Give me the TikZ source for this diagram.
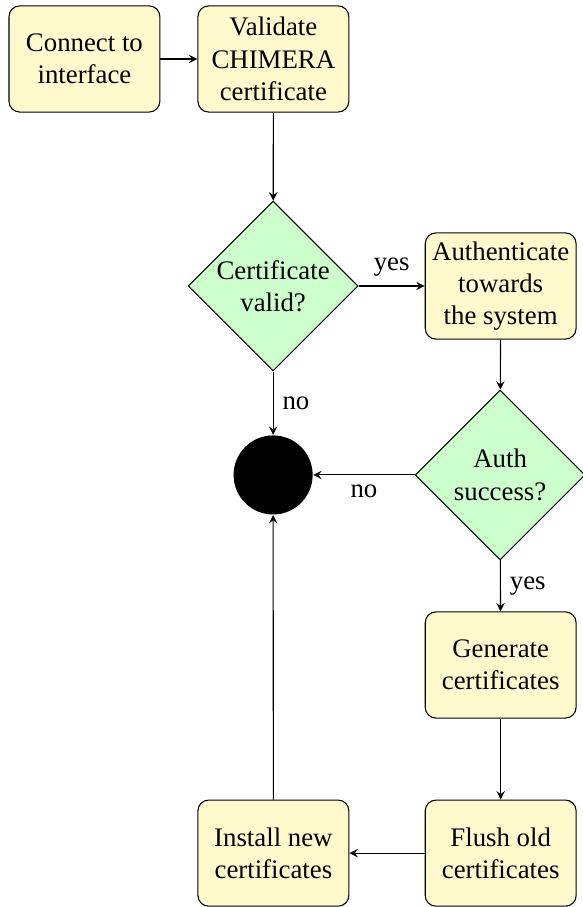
\documentclass[tikz,border=0pt]{standalone}
\usepackage{fontspec}
\setmainfont{Liberation Serif}
\usetikzlibrary{shapes.geometric,arrows}
\definecolor{boxyellow}{RGB}{255,250,205}
\definecolor{decgreen}{RGB}{204,255,204}
\tikzset{
  stepbox/.style={draw,rounded corners=4pt,fill=boxyellow,align=center,
    minimum width=56.3pt,minimum height=39.6pt,inner sep=2pt},
  decision/.style={draw,diamond,aspect=1,fill=decgreen,align=center,
    minimum size=63.4pt,inner sep=0pt},
  stopdot/.style={circle,fill=black,minimum size=29.5pt,inner sep=0pt},
  flow/.style={-stealth,line width=0.4pt}
}
\begin{document}
\begin{tikzpicture}
   \useasboundingbox (0pt,0pt) rectangle (217.5pt,-338.4pt);
   % steps and decisions
   \node [stepbox] (connect) at (31.5pt,-22pt) {Connect to\\interface};
   \node [stepbox] (validate) at (102pt,-22pt) {Validate\\CHIMERA\\certificate};
   \node [decision] (certok) at (101.9pt,-106.7pt) {Certificate\\valid?};
   \node [stepbox] (auth) at (186.8pt,-106.7pt) {Authenticate\\towards\\the system};
   \node [decision] (authok) at (186.6pt,-177.2pt) {Auth\\success?};
   \node [stopdot] (stop) at (101.9pt,-177.2pt) {};
   \node [stepbox] (generate) at (186.8pt,-248.1pt) {Generate\\certificates};
   \node [stepbox] (flush) at (186.8pt,-318.3pt) {Flush old\\certificates};
   \node [stepbox] (install) at (102pt,-318.3pt) {Install new\\certificates};
   % connectors
   \draw [flow] (connect) -- (validate);
   \draw [flow] (validate) -- (certok);
   \draw [flow] (certok) -- node [above] {yes} (auth);
   \draw [flow] (certok) -- node [right] {no} (stop);
   \draw [flow] (auth) -- (authok);
   \draw [flow] (authok) -- node [below] {no} (stop);
   \draw [flow] (authok) -- node [right] {yes} (generate);
   \draw [flow] (generate) -- (flush);
   \draw [flow] (flush) -- (install);
   \draw [flow] (install) -- (stop);
\end{tikzpicture}
\end{document}
